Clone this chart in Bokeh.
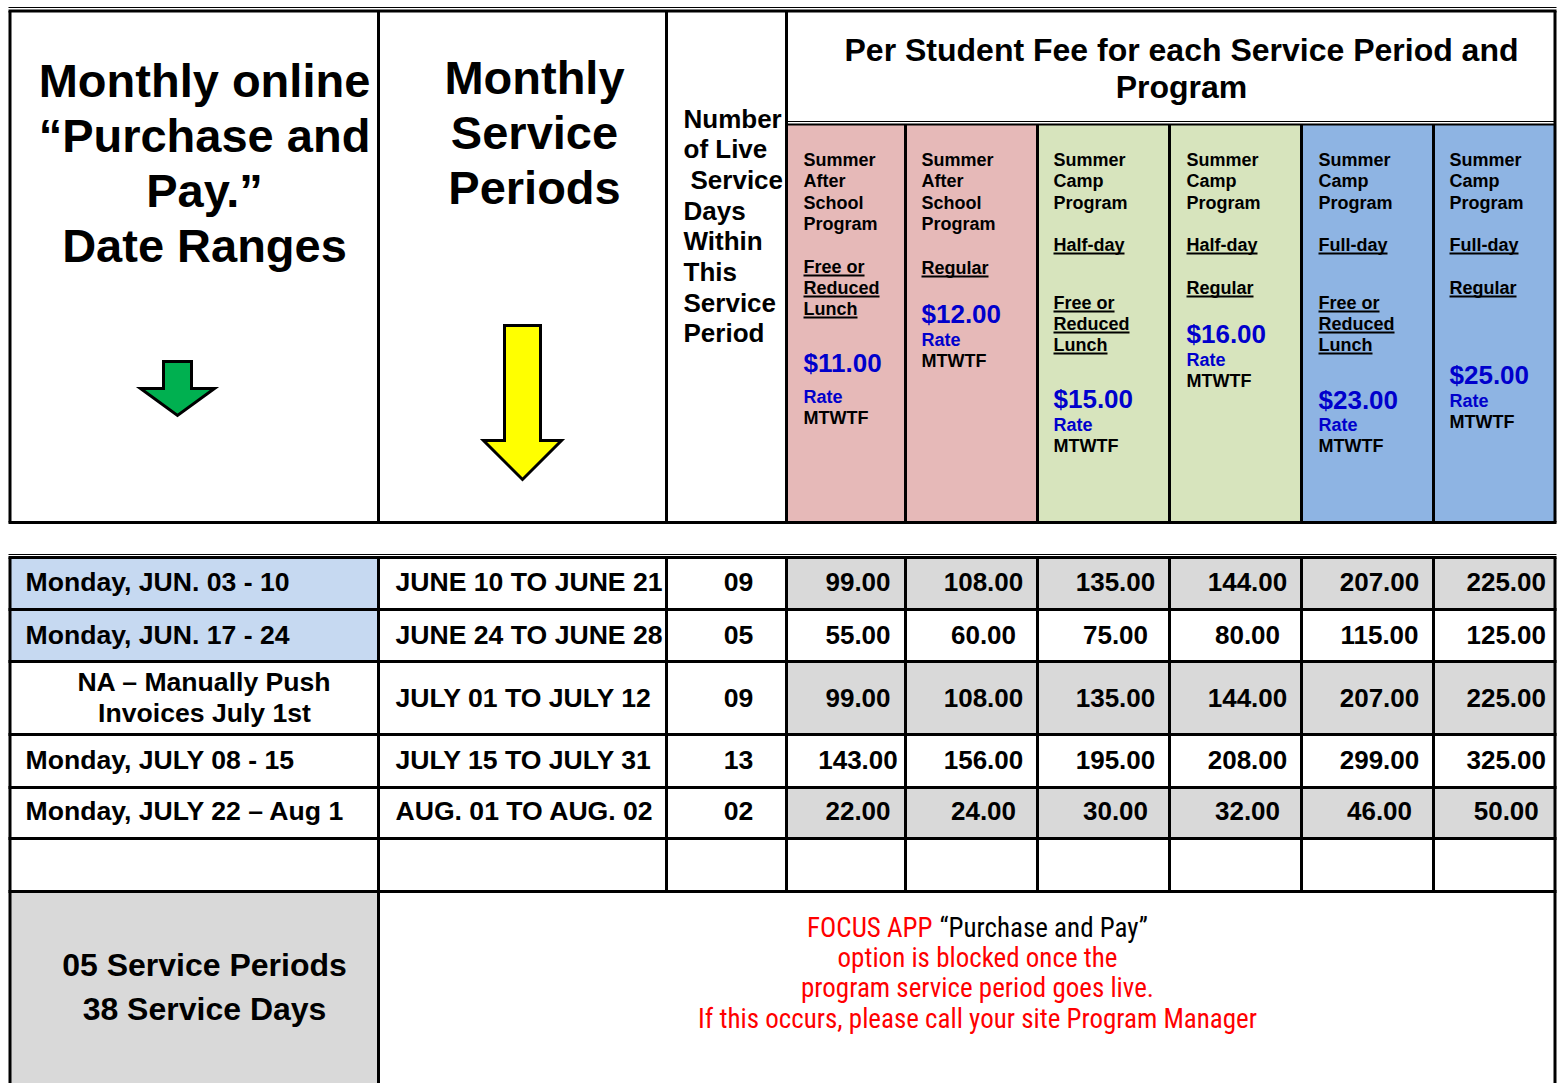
from bokeh.plotting import figure
from bokeh.models import Range1d
from bokeh.core.properties import value
from bokeh.embed import file_html
from bokeh.resources import INLINE

# ---------------- data ----------------
header_dates = ["Monthly online", "\u201cPurchase and", "Pay.\u201d", "Date Ranges"]
header_periods = ["Monthly", "Service", "Periods"]
header_days = ["Number", "of Live", " Service", "Days", "Within", "This", "Service", "Period"]
fee_title = ["Per Student Fee for each Service Period and", "Program"]

program_title = [["Summer", "After", "School", "Program"],
                 ["Summer", "After", "School", "Program"],
                 ["Summer", "Camp", "Program"],
                 ["Summer", "Camp", "Program"],
                 ["Summer", "Camp", "Program"],
                 ["Summer", "Camp", "Program"]]
program_day = [None, None, "Half-day", "Half-day", "Full-day", "Full-day"]
lunch_type = [["Free or", "Reduced", "Lunch"], ["Regular"],
              ["Free or", "Reduced", "Lunch"], ["Regular"],
              ["Free or", "Reduced", "Lunch"], ["Regular"]]
daily_rate = ["$11.00", "$12.00", "$15.00", "$16.00", "$23.00", "$25.00"]
rate_days = "MTWTF"

date_ranges = ["Monday, JUN. 03 - 10", "Monday, JUN. 17 - 24",
               "NA \u2013 Manually Push\nInvoices July 1st",
               "Monday, JULY 08 - 15", "Monday, JULY 22 \u2013 Aug 1"]
service_periods = ["JUNE 10 TO JUNE 21", "JUNE 24 TO JUNE 28", "JULY 01 TO JULY 12",
                   "JULY 15 TO JULY 31", "AUG. 01 TO AUG. 02"]
service_days = ["09", "05", "09", "13", "02"]
fees = [
    [99.00, 108.00, 135.00, 144.00, 207.00, 225.00],
    [55.00, 60.00, 75.00, 80.00, 115.00, 125.00],
    [99.00, 108.00, 135.00, 144.00, 207.00, 225.00],
    [143.00, 156.00, 195.00, 208.00, 299.00, 325.00],
    [22.00, 24.00, 30.00, 32.00, 46.00, 50.00],
]
summary = ["05 Service Periods", "38 Service Days"]
note_red_head = "FOCUS APP"
note_black_head = "\u201cPurchase and Pay\u201d"
note_lines = ["option is blocked once the", "program service period goes live.",
              "If this occurs, please call your site Program Manager"]

# ---------------- layout ----------------
FONT = "Liberation Sans"
NARROW = "Roboto Condensed"
PINK, GREEN, BLUE = "#E6B9B8", "#D7E4BD", "#8EB4E3"
LBLUE, GREY = "#C6D9F1", "#D9D9D9"
RATE_BLUE = "#0000CC"
col_fill = [PINK, PINK, GREEN, GREEN, BLUE, BLUE]

X = [9.5, 378, 666, 786, 905, 1037, 1169, 1301, 1433, 1554.5]
H_TOP, H_SUB, H_BOT = 10.5, 124, 522
R = [557, 609, 661, 734, 787, 838, 891, 1090]

p = figure(width=1559, height=1083, x_range=Range1d(0, 1559), y_range=Range1d(1083, 0),
           output_backend="svg", toolbar_location=None, min_border=0)
p.axis.visible = False
p.grid.visible = False
p.outline_line_color = None
p.background_fill_color = "white"
p.border_fill_color = "white"


def txt(x, y, s, size, color="black", align="left", font=FONT, style="bold"):
    p.text(x=[x], y=[y], text=[s], text_font=value(font), text_font_size=f"{size}px",
           text_font_style=style, text_color=color, text_align=align, text_baseline="middle")


# ---- header fills ----
p.quad(left=X[3:9], right=X[4:10], top=[H_SUB] * 6, bottom=[H_BOT] * 6,
       fill_color=col_fill, line_color=None)

# ---- bottom table fills ----
p.quad(left=[X[0]] * 2, right=[X[1]] * 2, top=R[0:2], bottom=R[1:3], fill_color=LBLUE, line_color=None)
for r in (0, 2, 4):
    p.quad(left=X[3:9], right=X[4:10], top=[R[r]] * 6, bottom=[R[r + 1]] * 6,
           fill_color=GREY, line_color=None)
p.quad(left=[X[0]], right=[X[1]], top=[R[6]], bottom=[R[7]], fill_color=GREY, line_color=None)

# ---- header lines ----
BW = 3
p.segment(x0=[8], y0=[7], x1=[1556], y1=[7], line_color="black", line_width=1)
p.segment(x0=[8], y0=[H_TOP], x1=[1556], y1=[H_TOP], line_color="black", line_width=BW)
p.segment(x0=[8], y0=[H_BOT], x1=[1556], y1=[H_BOT], line_color="black", line_width=BW)
p.segment(x0=X[:4] + [X[9]], y0=[H_TOP] * 5, x1=X[:4] + [X[9]], y1=[H_BOT] * 5,
          line_color="black", line_width=BW)
p.segment(x0=[X[3]], y0=[H_SUB - 3], x1=[X[9]], y1=[H_SUB - 3], line_color="black", line_width=1)
p.segment(x0=[X[3]], y0=[H_SUB], x1=[X[9]], y1=[H_SUB], line_color="black", line_width=2)
p.segment(x0=X[4:9], y0=[H_SUB] * 5, x1=X[4:9], y1=[H_BOT] * 5, line_color="black", line_width=BW)

# ---- bottom table lines ----
p.segment(x0=[8] * 7, y0=R[:7], x1=[1556] * 7, y1=R[:7], line_color="black", line_width=BW)
p.segment(x0=[8], y0=[R[0] - 3], x1=[1556], y1=[R[0] - 3], line_color="black", line_width=1)
p.segment(x0=X, y0=[R[0]] * 10, x1=X, y1=[R[6]] * 10, line_color="black", line_width=BW)
p.segment(x0=[X[0], X[1], X[9]], y0=[R[6]] * 3, x1=[X[0], X[1], X[9]], y1=[R[7]] * 3,
          line_color="black", line_width=BW)

# ---- header texts ----
for i, s in enumerate(header_dates):
    txt(204, 80 + 55 * i, s, 47, align="center")
for i, s in enumerate(header_periods):
    txt(534, 77 + 55 * i, s, 47, align="center")
for i, s in enumerate(header_days):
    indent = 7 if s.startswith(" ") else 0
    txt(683 + indent, 118 + 30.7 * i, s.strip(), 26)
txt(1181, 49, fee_title[0], 32, align="center")
txt(1181, 86, fee_title[1], 32, align="center")

# arrows
def down_arrow(cx, top, head_y, tip, shaft_half, head_half, color):
    xs = [cx - shaft_half, cx + shaft_half, cx + shaft_half, cx + head_half, cx,
          cx - head_half, cx - shaft_half]
    ys = [top, top, head_y, head_y, tip, head_y, head_y]
    p.patch(xs, ys, fill_color=color, line_color="black", line_width=3, line_join="miter")


down_arrow(177, 361, 388, 415, 14, 37, "#00B050")
down_arrow(522, 325, 440, 479, 18, 39, "#FFFF00")

# program column headers
AW = {'F': 611, 'r': 389, 'e': 556, ' ': 278, 'o': 611, 'R': 722, 'd': 611, 'u': 611,
      'c': 556, 'L': 611, 'n': 611, 'h': 611, 'g': 611, 'l': 278, 'a': 556, 'H': 722,
      'f': 333, '-': 333, 'y': 556}


def underline_text(x, y, s, size=18):
    txt(x, y, s, size)
    w = sum(AW.get(ch, 556) for ch in s) * size / 1000.0
    p.segment(x0=[x], y0=[y + 9], x1=[x + w], y1=[y + 9], line_color="black", line_width=2)


col_x = [803, 921, 1053, 1186, 1318, 1449]
day_y = [None, None, 244, 244, 244, 244]
lunch_y = [266, 267, 302, 287, 302, 287]
val_y = [362, 313, 398, 333, 399, 374]
rate_y = [396, 339, 424, 359, 424, 400]
for c in range(6):
    x = col_x[c]
    for k, s in enumerate(program_title[c]):
        txt(x, 159 + 21.6 * k, s, 18)
    if program_day[c]:
        underline_text(x, day_y[c], program_day[c])
    for k, s in enumerate(lunch_type[c]):
        underline_text(x, lunch_y[c] + 21 * k, s)
    txt(x, val_y[c], daily_rate[c], 26, color=RATE_BLUE)
    txt(x, rate_y[c], "Rate", 18, color=RATE_BLUE)
    txt(x, rate_y[c] + 21, rate_days, 18)

# ---- table body texts ----
TS = 26.6
row_y = [581, 634, 697, 759, 810]
cell_cx = [(X[i] + X[i + 1]) / 2 + 12 for i in range(3, 9)]
for r in range(5):
    y = row_y[r]
    s = date_ranges[r]
    if "\n" in s:
        a, b = s.split("\n")
        txt(204, y - 16, a, TS, align="center")
        txt(204, y + 15, b, TS, align="center")
    else:
        txt(25, y, s, TS)
    txt(395, y, service_periods[r], TS)
    txt((X[2] + X[3]) / 2 + 12, y, service_days[r], TS, align="center")
    for c in range(6):
        txt(cell_cx[c], y, f"{fees[r][c]:.2f}", 26, align="center")

txt(204, 964, summary[0], 32, align="center")
txt(204, 1008, summary[1], 32, align="center")

NS = 27
txt(932, 927, note_red_head, NS, color="#FF0000", align="right", font=NARROW, style="normal")
txt(939, 927, note_black_head, NS, color="black", align="left", font=NARROW, style="normal")
for i, s in enumerate(note_lines):
    txt(977, 957 + 30.7 * i, s, NS, color="#FF0000", align="center", font=NARROW, style="normal")

open("out.html", "w").write(file_html(p, INLINE))
